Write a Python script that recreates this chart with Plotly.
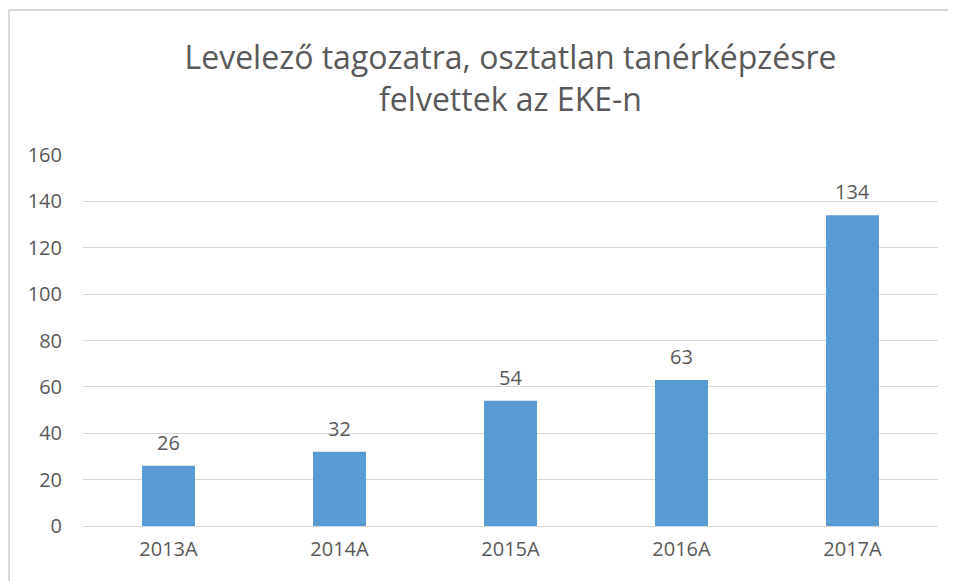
import plotly.graph_objects as go

categories = ["2013A", "2014A", "2015A", "2016A", "2017A"]
values = [26, 32, 54, 63, 134]
y_ticks = [0, 20, 40, 60, 80, 100, 120, 140, 160]

FONT = "Open Sans"
GRAY = "#595959"

fig = go.Figure(go.Bar(
    x=categories, y=values,
    marker=dict(color="#5B9BD5", line=dict(width=0)),
    cliponaxis=False,
))

OFF = 8  # page offset of the figure
W, H = 956, 581
L, T = 83 - OFF, 155 - OFF
R = W - (938 - OFF)
B = H - (526 - OFF)
pw, ph = W - L - R, H - T - B

def px_x(sx):
    return (sx - OFF - L) / pw

def px_y(sy):
    return 1 - (sy - OFF - T) / ph

annotations = [
    dict(x=c, y=v, xref="x", yref="y", text=str(v), showarrow=False,
         yanchor="bottom", yshift=8,
         font=dict(family=FONT, size=20, color=GRAY))
    for c, v in zip(categories, values)
]

fig.update_layout(
    width=W, height=H,
    margin=dict(l=L, r=R, t=T, b=B),
    paper_bgcolor="white", plot_bgcolor="white",
    bargap=0.69,
    showlegend=False,
    annotations=annotations,
    title=dict(
        text="Levelező tagozatra, osztatlan tanérképzésre<br>felvettek az EKE-n",
        x=0.5, xanchor="center", xref="paper",
        y=1 - 61 / H, yanchor="top",
        font=dict(family=FONT, size=32, color=GRAY),
    ),
    font=dict(family=FONT, color=GRAY),
    xaxis=dict(
        showgrid=False, showline=False, zeroline=False,
        tickfont=dict(family=FONT, size=20, color=GRAY),
        ticks="", ticklabelstandoff=9,
    ),
    yaxis=dict(
        range=[0, 160], tickvals=y_ticks,
        showgrid=True, gridcolor="#D9D9D9", gridwidth=1.3,
        zeroline=True, zerolinecolor="#D9D9D9", zerolinewidth=1.3,
        showline=False,
        tickfont=dict(family=FONT, size=20, color=GRAY),
        ticks="", ticklabelstandoff=20,
    ),
    shapes=[
        dict(type="line", xref="paper", yref="paper",
             x0=px_x(9), x1=px_x(9),
             y0=px_y(620), y1=px_y(10),
             line=dict(color="#D9D9D9", width=2)),
        dict(type="line", xref="paper", yref="paper",
             x0=px_x(9), x1=px_x(1000),
             y0=px_y(10), y1=px_y(10),
             line=dict(color="#D9D9D9", width=2)),
    ],
)

fig.write_html("out.html")
